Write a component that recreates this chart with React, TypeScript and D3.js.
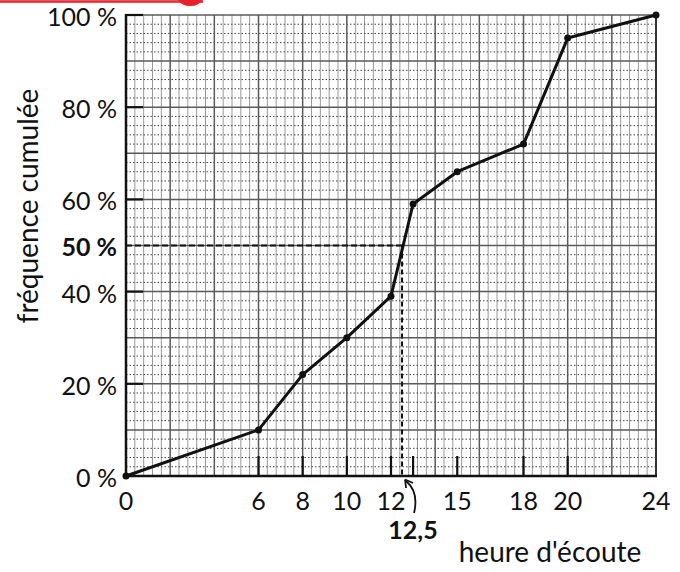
import React from "react";
import * as d3 from "d3";

const hours = [0, 6, 8, 10, 12, 13, 15, 18, 20, 24];
const cumFreq = [0, 10, 22, 30, 39, 59, 66, 72, 95, 100];
const xTickLabels = [0, 6, 8, 10, 12, 15, 18, 20, 24];
const yTickValues = [0, 20, 40, 60, 80, 100];
const medianHour = 12.5;
const medianPct = 50;

const W = 680, H = 572;
const FONT = "Lato, 'Open Sans', sans-serif";

export default function App() {
  const x = d3.scaleLinear().domain([0, 24]).range([126, 656]);
  const y = d3.scaleLinear().domain([0, 100]).range([476, 15]);

  const minorX = d3.range(0, 24.001, 0.4).filter((v) => Math.abs(v / 2 - Math.round(v / 2)) > 1e-6);
  const majorX = d3.range(0, 24.001, 2);
  const minorY = d3.range(0, 100.001, 2).filter((v) => v % 10 !== 0);
  const majorY = d3.range(0, 100.001, 10);

  const line = d3.line<number>().x((_, i) => x(hours[i])).y((d) => y(d));
  const pathD = line(cumFreq) || "";

  const tickHours = hours.filter((h) => h > 0 && h < 24);
  const ax = x(medianHour), ay = y(medianPct);

  return (
    <svg width={W} height={H} style={{ position: "absolute", left: 0, top: 0, background: "#fff" }} fontFamily={FONT}>
      {/* red header remnant */}
      <line x1={0} x2={203} y1={1.5} y2={1.5} stroke="#e8202a" strokeWidth={2.5} />
      <path d="M 178 0 Q 182 6 190 6 Q 199 6 202 0 Z" fill="#e8202a" />

      {/* minor grid */}
      {minorX.map((v) => (
        <line key={"mx" + v} x1={x(v)} x2={x(v)} y1={y(100)} y2={y(0)} stroke="#999" strokeWidth={1} />
      ))}
      {minorY.map((v) => (
        <line key={"my" + v} x1={x(0)} x2={x(24)} y1={y(v)} y2={y(v)} stroke="#444" strokeWidth={1} strokeDasharray="1.5,2" />
      ))}
      {/* major grid */}
      {majorX.map((v) => (
        <line key={"Mx" + v} x1={x(v)} x2={x(v)} y1={y(100)} y2={y(0)} stroke="#5a5a5a" strokeWidth={1.5} />
      ))}
      {majorY.map((v) => (
        <line key={"My" + v} x1={x(0)} x2={x(24)} y1={y(v)} y2={y(v)} stroke="#5a5a5a" strokeWidth={1.5} />
      ))}
      {/* right border */}
      <line x1={x(24)} x2={x(24)} y1={y(100)} y2={y(0)} stroke="#333" strokeWidth={2} />

      {/* axis */}
      <line x1={x(0)} x2={x(0)} y1={y(100) - 1} y2={y(0)} stroke="#111" strokeWidth={2.5} />
      <line x1={x(0)} x2={x(24) + 1} y1={y(0)} y2={y(0)} stroke="#111" strokeWidth={2.5} />

      {/* bold ticks */}
      {yTickValues.filter((v) => v > 0).map((v) => (
        <line key={"yt" + v} x1={x(0)} x2={x(0) + 17} y1={y(v)} y2={y(v)} stroke="#111" strokeWidth={2.2} />
      ))}
      {tickHours.map((h) => (
        <line key={"xt" + h} x1={x(h)} x2={x(h)} y1={y(0)} y2={y(0) - 20} stroke="#111" strokeWidth={2.2} />
      ))}

      {/* median dashed lines */}
      <line x1={x(0)} x2={ax} y1={ay} y2={ay} stroke="#111" strokeWidth={2} strokeDasharray="6,3" />
      <line x1={ax} x2={ax} y1={ay} y2={y(0)} stroke="#111" strokeWidth={2} strokeDasharray="5,3" />

      {/* curve */}
      <path d={pathD} fill="none" stroke="#111" strokeWidth={3} strokeLinejoin="round" />
      {cumFreq.map((v, i) => (
        <circle key={"p" + i} cx={x(hours[i])} cy={y(v)} r={3.5} fill="#111" />
      ))}

      {/* y labels */}
      {yTickValues.map((v) => (
        <text key={"yl" + v} x={117} y={y(v) + 11} fontSize={25} textAnchor="end" fill="#111">{`${v} %`}</text>
      ))}
      <text x={117} y={ay + 10} fontSize={25} fontWeight="bold" textAnchor="end" fill="#111">{`${medianPct} %`}</text>

      {/* x labels */}
      {xTickLabels.map((v) => (
        <text key={"xl" + v} x={x(v)} y={510} fontSize={25} textAnchor="middle" fill="#111">{v}</text>
      ))}
      <text x={413} y={539} fontSize={25} fontWeight="bold" textAnchor="middle" fill="#111">12,5</text>

      {/* arrow */}
      <path d={`M ${ax + 12} 513 Q ${ax + 17} 492 ${ax + 4} 481`} fill="none" stroke="#111" strokeWidth={1.8} />
      <path d={`M ${ax + 3} 479.5 L ${ax + 4} 488 M ${ax + 3} 479.5 L ${ax + 11} 483`} fill="none" stroke="#111" strokeWidth={1.8} />

      {/* axis titles */}
      <text x={550} y={562} fontSize={28} textAnchor="middle" fill="#111">heure d'écoute</text>
      <text transform="translate(38,206) rotate(-90)" fontSize={28} textAnchor="middle" fill="#111">fréquence cumulée</text>
    </svg>
  );
}
